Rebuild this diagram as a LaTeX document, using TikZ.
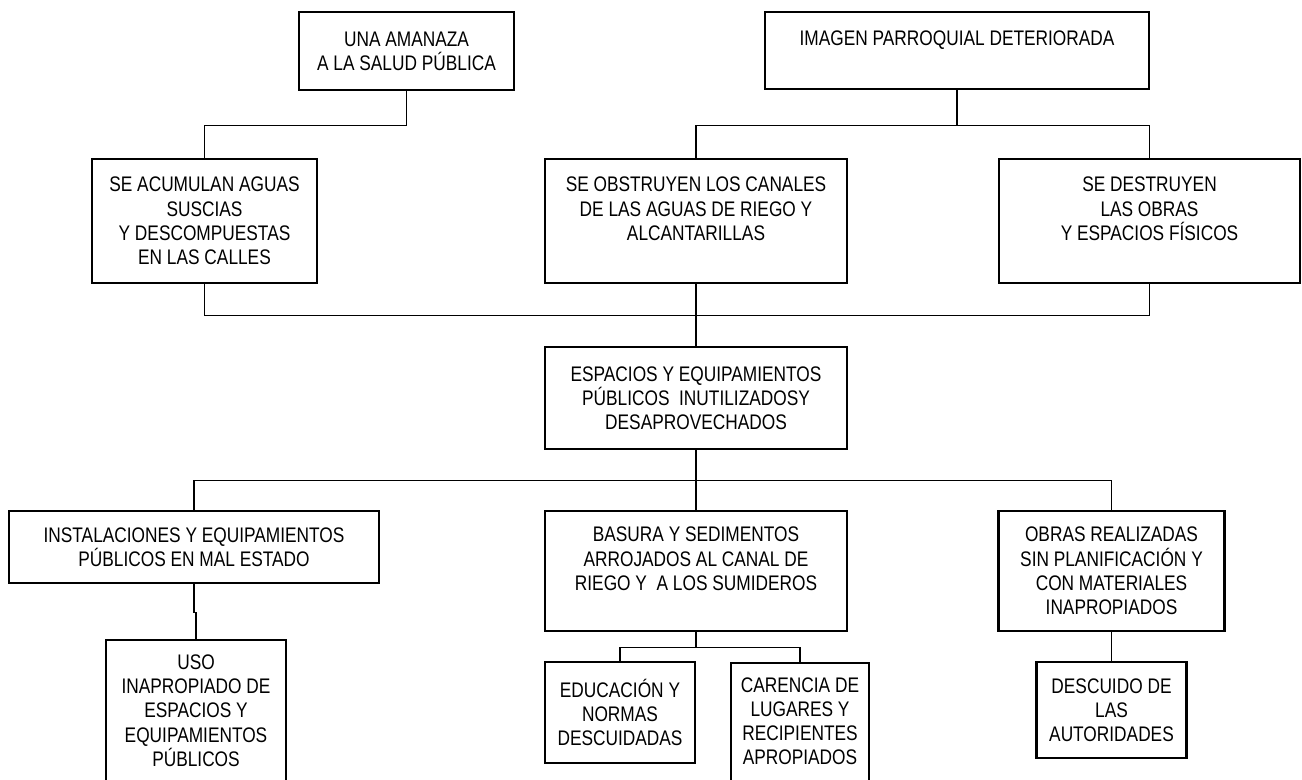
\documentclass[tikz,border=0pt]{standalone}
\usepackage{fontspec}
\setmainfont{Liberation Sans}[FakeStretch=0.82]
\usepackage{tikz}
\usetikzlibrary{positioning, calc}

\begin{document}
\begin{tikzpicture}[
    problem/.style={rectangle, draw, line width=1.4pt, align=center, inner sep=2pt, font=\fontsize{12}{13.8}\selectfont},
    link/.style={line width=0.8pt}
]
    \clip (0, 0) rectangle (26.04, -15.58);

    % Effects
    \node[problem, minimum width=4.31cm, minimum height=1.56cm] (amenaza) at (8.13, -1.02) {UNA AMANAZA\\A LA SALUD PÚBLICA};
    \node[problem, minimum width=7.67cm, minimum height=1.54cm] (imagen) at (19.14, -1.01) {IMAGEN PARROQUIAL DETERIORADA\\~};

    \node[problem, minimum width=4.5cm, minimum height=2.48cm] (acumulan) at (4.09, -4.42) {SE ACUMULAN AGUAS\\SUSCIAS\\Y DESCOMPUESTAS\\EN LAS CALLES};
    \node[problem, minimum width=6.04cm, minimum height=2.48cm] (obstruyen) at (13.92, -4.42) {SE OBSTRUYEN LOS CANALES\\DE LAS AGUAS DE RIEGO Y\\ALCANTARILLAS\\~};
    \node[problem, minimum width=6.02cm, minimum height=2.48cm] (destruyen) at (22.99, -4.42) {SE DESTRUYEN\\LAS OBRAS\\Y ESPACIOS FÍSICOS\\~};

    % Central problem
    \node[problem, minimum width=6.04cm, minimum height=2.04cm] (espacios) at (13.92, -7.96) {ESPACIOS Y EQUIPAMIENTOS\\PÚBLICOS~ INUTILIZADOSY\\DESAPROVECHADOS};

    % Causes
    \node[problem, minimum width=7.4cm, minimum height=1.44cm] (instal) at (3.88, -10.94) {INSTALACIONES Y EQUIPAMIENTOS\\PÚBLICOS EN MAL ESTADO};
    \node[problem, minimum width=6.04cm, minimum height=2.4cm] (basura) at (13.92, -11.42) {BASURA Y SEDIMENTOS\\ARROJADOS AL CANAL DE\\RIEGO Y~ A LOS SUMIDEROS\\~};
    \node[problem, minimum width=4.52cm, minimum height=2.4cm] (obras) at (22.23, -11.42) {OBRAS REALIZADAS\\SIN PLANIFICACIÓN Y\\CON MATERIALES\\INAPROPIADOS};

    \node[problem, anchor=north, minimum width=3.6cm, minimum height=3.3cm] (uso) at (3.92, -12.78) {USO\\INAPROPIADO DE\\ESPACIOS Y\\EQUIPAMIENTOS\\PÚBLICOS\\~};
    \node[problem, minimum width=3cm, minimum height=2.02cm] (educ) at (12.4, -14.25) {EDUCACIÓN Y\\NORMAS\\DESCUIDADAS};
    \node[problem, anchor=north, minimum width=2.77cm, minimum height=2.8cm] (carencia) at (16, -13.24) {CARENCIA DE\\LUGARES Y\\RECIPIENTES\\APROPIADOS\\~};
    \node[problem, minimum width=3cm, minimum height=1.92cm] (descuido) at (22.23, -14.2) {DESCUIDO DE\\LAS\\AUTORIDADES};

    % Connectors
    \draw[link] (amenaza.south) -- ++(0, -0.68) -| (acumulan.north);
    \draw[link] (imagen.south) -- ++(0, -0.7) -| (obstruyen.north);
    \draw[link] (imagen.south) -- ++(0, -0.7) -| (destruyen.north);
    \draw[link] (acumulan.south) -- ++(0, -0.62) -| (destruyen.south);
    \draw[link] (obstruyen.south) -- (espacios.north);

    \draw[link] (espacios.south) -- (basura.north);
    \draw[link] (espacios.south) -- ++(0, -0.6) -| (instal.north);
    \draw[link] (espacios.south) -- ++(0, -0.6) -| (obras.north);

    \draw[link] (instal.south) -- ++(0, -0.56) -| (uso.north);
    \draw[link] (basura.south) -- ++(0, -0.3) -| (educ.north);
    \draw[link] (basura.south) -- ++(0, -0.3) -| (carencia.north);
    \draw[link] (obras.south) -- (descuido.north);
\end{tikzpicture}
\end{document}
